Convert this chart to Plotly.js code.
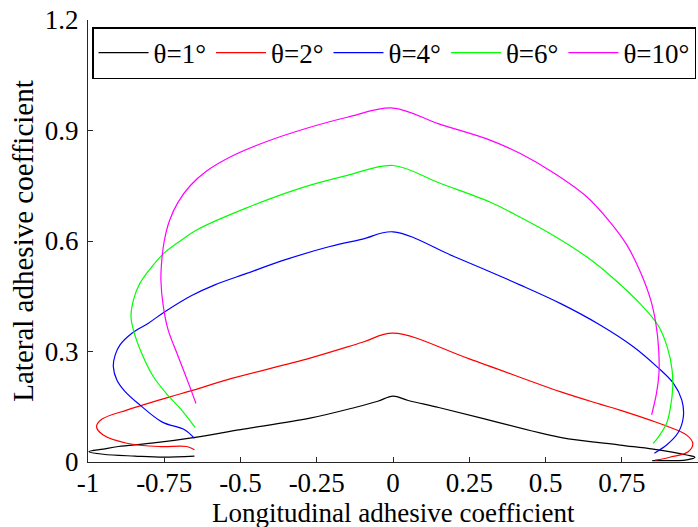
<!DOCTYPE html>
<html>
<head>
<meta charset="utf-8">
<script src="https://cdn.plot.ly/plotly-3.0.1.min.js"></script>
<style>html,body{margin:0;padding:0;background:#fff;}#chart{width:698px;height:527px;}</style>
</head>
<body>
<div id="chart"></div>
<script>
// θ=1°
const x1 = [-0.651, -0.753, -0.846, -0.95, -0.997, -0.95, -0.90, -0.791, -0.649, -0.5, -0.272, -0.125, -0.05, 0, 0.05, 0.15, 0.3, 0.548, 0.744, 0.853, 0.963, 0.99, 0.963, 0.85];
const y1 = [0.016, 0.013, 0.016, 0.021, 0.028, 0.035, 0.042, 0.051, 0.067, 0.088, 0.119, 0.148, 0.165, 0.179, 0.167, 0.148, 0.117, 0.067, 0.046, 0.035, 0.019, 0.013, 0.006, 0.004];
// θ=2°
const x2 = [-0.651, -0.676, -0.764, -0.873, -0.95, -0.972, -0.955, -0.873, -0.819, -0.731, -0.655, -0.545, -0.272, -0.1, 0, 0.25, 0.548, 0.679, 0.744, 0.886, 0.963, 0.983, 0.968, 0.908, 0.859];
const y2 = [0.033, 0.042, 0.042, 0.051, 0.073, 0.096, 0.116, 0.141, 0.155, 0.177, 0.195, 0.223, 0.282, 0.325, 0.35, 0.28, 0.191, 0.157, 0.141, 0.101, 0.073, 0.05, 0.028, 0.013, 0.005];
// θ=4°
const x4 = [-0.651, -0.682, -0.758, -0.83, -0.879, -0.905, -0.917, -0.911, -0.895, -0.857, -0.802, -0.748, -0.66, -0.584, -0.48, -0.35, -0.207, -0.1, 0, 0.2, 0.416, 0.55, 0.679, 0.788, 0.865, 0.919, 0.947, 0.952, 0.935, 0.897, 0.857];
const y4 = [0.064, 0.087, 0.109, 0.155, 0.192, 0.222, 0.259, 0.290, 0.318, 0.349, 0.377, 0.408, 0.452, 0.481, 0.512, 0.55, 0.585, 0.605, 0.625, 0.558, 0.481, 0.43, 0.372, 0.313, 0.259, 0.214, 0.168, 0.123, 0.08, 0.046, 0.024];
// θ=6°
const x6 = [-0.649, -0.693, -0.737, -0.786, -0.824, -0.851, -0.859, -0.851, -0.83, -0.791, -0.748, -0.693, -0.644, -0.48, -0.305, -0.15, 0, 0.15, 0.318, 0.416, 0.526, 0.635, 0.722, 0.81, 0.87, 0.9, 0.915, 0.917, 0.91, 0.897, 0.865, 0.853];
const y6 = [0.094, 0.141, 0.18, 0.232, 0.295, 0.358, 0.395, 0.44, 0.485, 0.53, 0.569, 0.603, 0.63, 0.69, 0.743, 0.778, 0.805, 0.758, 0.706, 0.665, 0.615, 0.557, 0.499, 0.43, 0.37, 0.31, 0.25, 0.2, 0.15, 0.105, 0.062, 0.051];
// θ=10°
const x10 = [-0.646, -0.666, -0.704, -0.737, -0.753, -0.761, -0.758, -0.75, -0.733, -0.705, -0.665, -0.611, -0.524, -0.414, -0.283, -0.15, 0, 0.15, 0.318, 0.416, 0.526, 0.635, 0.711, 0.766, 0.81, 0.845, 0.862, 0.871, 0.872, 0.864, 0.848];
const y10 = [0.159, 0.204, 0.286, 0.358, 0.422, 0.494, 0.548, 0.6, 0.655, 0.705, 0.75, 0.79, 0.832, 0.87, 0.906, 0.936, 0.961, 0.918, 0.874, 0.838, 0.785, 0.72, 0.652, 0.59, 0.518, 0.44, 0.375, 0.306, 0.241, 0.187, 0.128];

const names = ['θ=1°', 'θ=2°', 'θ=4°', 'θ=6°', 'θ=10°'];
const colors = ['#000000', '#ff0000', '#0000ff', '#00ff00', '#ff00ff'];
const xs = [x1, x2, x4, x6, x10];
const ys = [y1, y2, y4, y6, y10];

const xTicks = [-1, -0.75, -0.5, -0.25, 0, 0.25, 0.5, 0.75, 1];
const xTickText = ['-1', '-0.75', '-0.5', '-0.25', '0', '0.25', '0.5', '0.75', '1'];
const yTicks = [0, 0.3, 0.6, 0.9, 1.2];
const yTickText = ['0', '0.3', '0.6', '0.9', '1.2'];
const xTitle = 'Longitudinal adhesive coefficient';
const yTitle = 'Lateral adhesive coefficient';

const FONT = 'Liberation Serif, Times New Roman, serif';

const traces = xs.map((x, i) => ({
  x: x, y: ys[i], name: names[i], type: 'scatter', mode: 'lines',
  line: {color: colors[i], width: 1.2, shape: 'spline', smoothing: 1}
}));

const layout = {
  width: 698, height: 527,
  margin: {l: 88, r: 0, t: 20, b: 65},
  paper_bgcolor: '#fff', plot_bgcolor: '#fff',
  font: {family: FONT, size: 27, color: '#000'},
  showlegend: true,
  legend: {
    orientation: 'h', x: 0.0066, y: 0.984, xanchor: 'left', yanchor: 'top',
    bgcolor: '#fff', bordercolor: '#000', borderwidth: 1.5,
    font: {family: FONT, size: 27, color: '#000'},
    itemwidth: 50, traceorder: 'normal'
  },
  xaxis: {
    range: [-1, 1], tickvals: xTicks, ticktext: xTickText,
    showgrid: false, zeroline: false, showline: true, linecolor: '#262626', linewidth: 1,
    ticks: 'inside', ticklen: 5, tickcolor: '#262626', mirror: false,
    ticklabelstandoff: -3,
    tickfont: {family: FONT, size: 27, color: '#000'}
  },
  yaxis: {
    range: [0, 1.2], tickvals: yTicks, ticktext: yTickText,
    showgrid: false, zeroline: false, showline: true, linecolor: '#262626', linewidth: 1,
    ticks: 'inside', ticklen: 5, tickcolor: '#262626', mirror: false,
    ticklabelstandoff: 3,
    tickfont: {family: FONT, size: 27, color: '#000'},
    title: {text: yTitle, font: {family: FONT, size: 29, color: '#000'}, standoff: 2}
  },
  annotations: [{
    text: xTitle, xref: 'paper', yref: 'paper', x: 0.5, y: -65 / 442,
    xanchor: 'center', yanchor: 'bottom', yshift: -3, showarrow: false,
    font: {family: FONT, size: 27, color: '#000'}
  }]
};

Plotly.newPlot('chart', traces, layout, {displayModeBar: false, staticPlot: true});
</script>
</body>
</html>
